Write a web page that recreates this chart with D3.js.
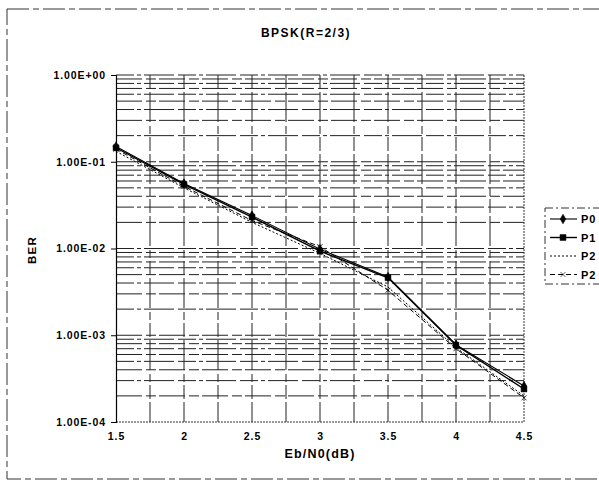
<!DOCTYPE html>
<html>
<head>
<meta charset="utf-8">
<script src="https://cdn.jsdelivr.net/npm/d3@7"></script>
<style>
	body { margin: 0; background: #fff; }
	svg { display: block; font-family: Arial, "Liberation Sans", sans-serif; font-weight: bold; }
	.grid line { stroke: #222; stroke-width: 1; }
	.axis text { font-size: 10.5px; font-weight: bold; fill: #000; letter-spacing: 0.9px; }
	.axis path, .axis line { stroke: #000; }
</style>
</head>
<body>
<svg id="chart" width="599" height="486"></svg>
<script>
var ebno = [1.5, 2, 2.5, 3, 3.5, 4, 4.5];
var xTicks = [1.5, 2, 2.5, 3, 3.5, 4, 4.5];
var yTicks = [1, 0.1, 0.01, 0.001, 0.0001];
var yTickLabels = ["1.00E+00", "1.00E-01", "1.00E-02", "1.00E-03", "1.00E-04"];

var p0 = [0.150, 0.056, 0.024, 0.0098, 0.0047, 0.00078, 0.00026];
var p1 = [0.145, 0.055, 0.023, 0.0093, 0.0046, 0.00077, 0.00024];
var p2a = [0.132, 0.050, 0.020, 0.0088, 0.0036, 0.00072, 0.00020];
var p2b = [0.140, 0.052, 0.021, 0.0105, 0.0033, 0.00070, 0.00019];
var seriesNames = ["P0", "P1", "P2", "P2"];

var svg = d3.select("#chart");
var margin = {top: 75, left: 116, right: 75, bottom: 64},
	width = 599 - margin.left - margin.right,
	height = 486 - margin.top - margin.bottom;

// outer chart frame (scan-like dashed)
svg.append("rect")
	.attr("x", 7).attr("y", 9)
	.attr("width", 600).attr("height", 470)
	.attr("fill", "none")
	.attr("stroke", "#333")
	.attr("stroke-width", 1)
	.attr("stroke-dasharray", "22,4,6,4");

var g = svg.append("g")
	.attr("transform", "translate(" + margin.left + "," + margin.top + ")");

var x = d3.scaleLinear().domain([1.5, 4.5]).range([0, width]);
var y = d3.scaleLog().domain([1e-4, 1]).range([height, 0]);

// grid: vertical every 0.25
var grid = g.append("g").attr("class", "grid");
grid.selectAll(".v")
	.data(d3.range(1.75, 4.5, 0.25))
	.enter().append("line")
	.attr("x1", function(d) { return x(d); })
	.attr("x2", function(d) { return x(d); })
	.attr("y1", 0).attr("y2", height)
	.attr("stroke-dasharray", "14,3,30,4,8,3");

// grid: horizontal at every log tick
var hTicks = y.ticks().filter(function(d) { return d < 1 && d > 1e-4; });
grid.selectAll(".h")
	.data(hTicks.concat([1]))
	.enter().append("line")
	.attr("x1", 0).attr("x2", width)
	.attr("y1", function(d) { return y(d); })
	.attr("y2", function(d) { return y(d); })
	.attr("stroke-dasharray", function(d, i) { return i % 2 ? "18,3,4,3,30,4" : "26,4,10,3"; });

// right and bottom border, dotted
g.append("line")
	.attr("x1", width).attr("x2", width).attr("y1", 0).attr("y2", height)
	.attr("stroke", "#333").attr("stroke-dasharray", "2,1");
g.append("line")
	.attr("x1", 0).attr("x2", width).attr("y1", height).attr("y2", height)
	.attr("stroke", "#333").attr("stroke-dasharray", "2,1");

// axes
var yAxis = d3.axisLeft(y)
	.tickValues(yTicks)
	.tickSize(5)
	.tickPadding(5)
	.tickFormat(function(d, i) { return yTickLabels[i]; });
g.append("g").attr("class", "axis").call(yAxis)
	.select(".domain").attr("stroke-width", 1.2);

var xAxis = d3.axisBottom(x)
	.tickValues(xTicks)
	.tickSize(0)
	.tickPadding(11)
	.tickFormat(function(d) { return d; });
g.append("g").attr("class", "axis")
	.attr("transform", "translate(0," + height + ")")
	.call(xAxis)
	.select(".domain").remove();

// series lines
function pts(vals) {
	return ebno.map(function(e, i) { return {x: e, y: vals[i]}; });
}
var line = d3.line()
	.x(function(d) { return x(d.x); })
	.y(function(d) { return y(d.y); });

var series = [
	{name: seriesNames[0], vals: p0, width: 1.1, dash: null, marker: "diamond"},
	{name: seriesNames[1], vals: p1, width: 1.4, dash: null, marker: "square"},
	{name: seriesNames[2], vals: p2a, width: 1, dash: "2,2", marker: null},
	{name: seriesNames[3], vals: p2b, width: 1, dash: "5,3", marker: "x"}
];

var sym = {
	diamond: d3.symbol().type(d3.symbolDiamond).size(26),
	square: d3.symbol().type(d3.symbolSquare).size(34),
	x: d3.symbol().type(d3.symbolX).size(18)
};

series.forEach(function(s) {
	g.append("path")
		.attr("d", line(pts(s.vals)))
		.attr("fill", "none")
		.attr("stroke", "#000")
		.attr("stroke-width", s.width)
		.attr("stroke-dasharray", s.dash);
	if (s.marker) {
		g.selectAll(null)
			.data(pts(s.vals))
			.enter().append("path")
			.attr("d", sym[s.marker]())
			.attr("transform", function(d) { return "translate(" + x(d.x) + "," + y(d.y) + ")"; })
			.attr("fill", s.marker === "x" ? "none" : "#000")
			.attr("stroke", "#000")
			.attr("stroke-width", s.marker === "x" ? 0.8 : 0.5);
	}
});

// title and axis labels
svg.append("text")
	.attr("x", 306).attr("y", 37)
	.attr("text-anchor", "middle")
	.attr("font-size", "12px")
	.attr("letter-spacing", "1.5px")
	.text("BPSK(R=2/3)");

svg.append("text")
	.attr("x", 320).attr("y", 458)
	.attr("text-anchor", "middle")
	.attr("font-size", "12.5px")
	.attr("letter-spacing", "1.2px")
	.text("Eb/N0(dB)");

svg.append("text")
	.attr("transform", "translate(36,250) rotate(-90)")
	.attr("text-anchor", "middle")
	.attr("font-size", "11.5px")
	.attr("letter-spacing", "1.2px")
	.text("BER");

// legend
var legend = svg.append("g").attr("transform", "translate(545,208)");
legend.append("rect")
	.attr("width", 70).attr("height", 76)
	.attr("fill", "#fff")
	.attr("stroke", "#333")
	.attr("stroke-dasharray", "8,3,2,3");

var item = legend.selectAll(".item")
	.data(series)
	.enter().append("g")
	.attr("transform", function(d, i) { return "translate(0," + (11 + i * 18.5) + ")"; });
item.append("line")
	.attr("x1", 5).attr("x2", 32)
	.attr("stroke", "#000")
	.attr("stroke-width", function(d) { return d.width; })
	.attr("stroke-dasharray", function(d) { return d.dash; });
item.filter(function(d) { return d.marker; })
	.append("path")
	.attr("d", function(d) { return sym[d.marker](); })
	.attr("transform", "translate(18,0)")
	.attr("fill", function(d) { return d.marker === "x" ? "none" : "#000"; })
	.attr("stroke", "#000")
	.attr("stroke-width", 0.6);
item.append("text")
	.attr("x", 36).attr("y", 4)
	.attr("font-size", "11px")
	.attr("letter-spacing", "0.8px")
	.text(function(d) { return d.name; });
</script>
</body>
</html>
